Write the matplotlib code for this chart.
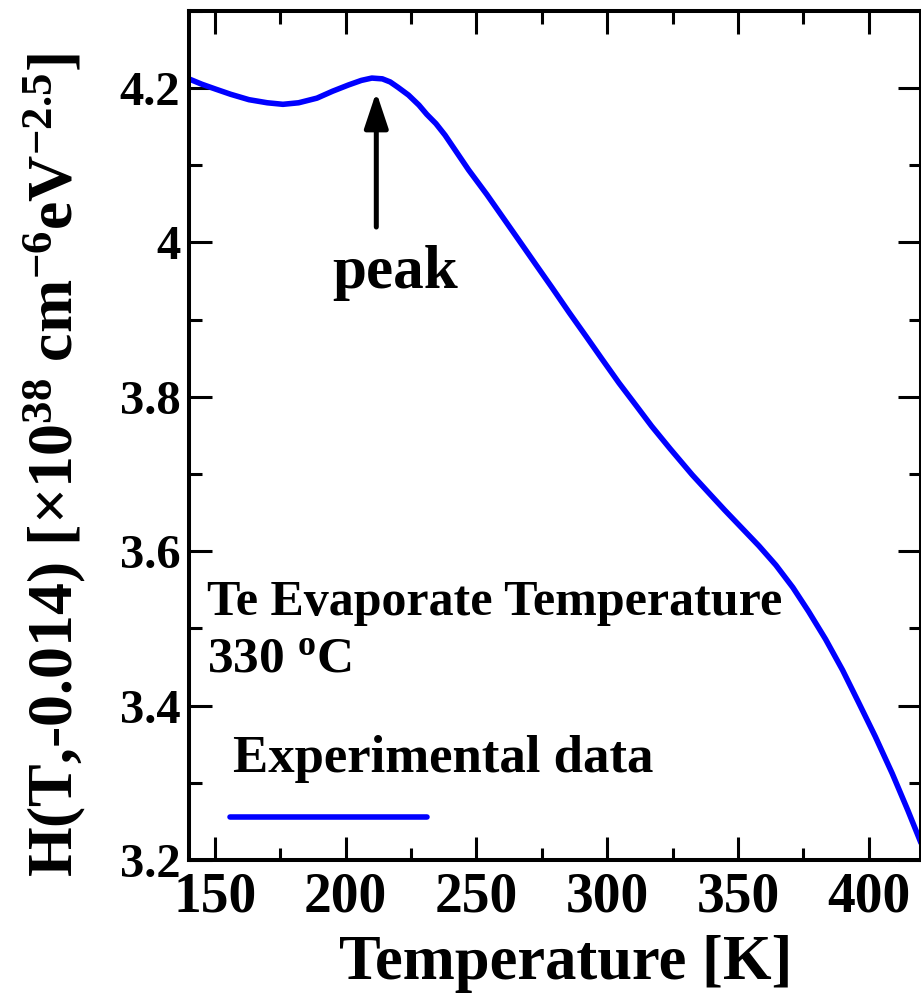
import numpy as np
import matplotlib
matplotlib.use("Agg")
import matplotlib.pyplot as plt
from matplotlib.ticker import MultipleLocator

# -------------------------------
# Data
# -------------------------------
temperature = [140, 145, 150, 156, 163, 170, 176, 182, 189, 195, 201, 206, 210,
               214, 217, 220, 224, 228, 231, 234.5, 238, 241, 244, 247,
               254, 260, 266, 273, 279, 285.5, 292, 298, 304.5, 311, 317, 324,
               332.5, 339, 345, 351.5, 358, 364.5, 371, 377, 383.5, 390, 396,
               402.5, 409, 415, 420]
h_value = [4.212, 4.205, 4.199, 4.192, 4.185, 4.181, 4.179, 4.181, 4.187, 4.196,
           4.204, 4.210, 4.213, 4.212, 4.208, 4.201, 4.191, 4.178, 4.166, 4.154,
           4.139, 4.124, 4.109, 4.094,
           4.062, 4.033, 4.004, 3.970, 3.941, 3.909, 3.878, 3.849, 3.818, 3.789,
           3.762, 3.733, 3.699, 3.675, 3.653, 3.630, 3.607, 3.582, 3.553, 3.522,
           3.486, 3.446, 3.405, 3.360, 3.312, 3.264, 3.222]

x_ticks = [150, 200, 250, 300, 350, 400]
y_ticks = [3.2, 3.4, 3.6, 3.8, 4.0, 4.2]
y_tick_labels = ["3.2", "3.4", "3.6", "3.8", "4", "4.2"]

peak_T = 211.7
peak_tip = 4.195
peak_tail = 4.02

# -------------------------------
# Style
# -------------------------------
plt.rcParams['font.family'] = ['Liberation Serif', 'DejaVu Serif']
plt.rcParams['font.weight'] = 'bold'
plt.rcParams['mathtext.default'] = 'regular'

fig = plt.figure(figsize=(9.21, 9.93), dpi=100)
ax = fig.add_axes([0.205, 0.134, 0.795, 0.855])

ax.plot(temperature, h_value, color='#0000ff', lw=4, solid_capstyle='round',
        solid_joinstyle='round')

ax.set_xlim(140, 420)
ax.set_ylim(3.2, 4.3)
ax.set_xticks(x_ticks)
ax.set_yticks(y_ticks)
ax.set_yticklabels(y_tick_labels)
ax.xaxis.set_minor_locator(MultipleLocator(25))
ax.yaxis.set_minor_locator(MultipleLocator(0.1))

for s in ax.spines.values():
    s.set_linewidth(2.9)
ax.tick_params(which='both', direction='in', top=True, right=True, width=2.2)
ax.tick_params(which='major', length=16.5)
ax.tick_params(which='minor', length=9)
ax.tick_params(axis='x', which='major', labelsize=40, pad=8)
ax.tick_params(axis='y', which='major', labelsize=35, pad=6)
for lab in ax.get_xticklabels() + ax.get_yticklabels():
    lab.set_fontweight('bold')

ax.set_xlabel("Temperature [K]", fontsize=45, fontweight='bold')
ax.xaxis.set_label_coords(0.515, -0.088)
ax.set_ylabel(r"H(T,-0.014) [×10$^{38}$ cm$^{-6}$eV$^{-2.5}$]",
              fontsize=46, fontweight='bold')
ax.yaxis.set_label_coords(-0.137, 0.465)

# peak marker
ax.annotate('', xy=(peak_T, peak_tip), xytext=(peak_T, peak_tail),
            arrowprops=dict(arrowstyle='-|>,head_length=1.08,head_width=0.36',
                            mutation_scale=20, lw=3.6, color='black',
                            shrinkA=0, shrinkB=0))
ax.text(219, 3.941, "peak", fontsize=44, fontweight='bold',
        ha='center', va='baseline')

# annotation text
ax.text(0.0246, 0.2886, "Te Evaporate Temperature", transform=ax.transAxes,
        fontsize=36, fontweight='bold', va='baseline')
ax.text(0.0246, 0.2214, r"330 $^{o}$C", transform=ax.transAxes,
        fontsize=37, fontweight='bold', va='baseline')

# hand-made legend: label above a line sample
ax.text(0.060, 0.1037, "Experimental data", transform=ax.transAxes,
        fontsize=38, fontweight='bold', va='baseline')
ax.plot([0.056, 0.325], [0.0506, 0.0506], transform=ax.transAxes,
        color='#0000ff', lw=4, solid_capstyle='round')

fig.savefig("out.png", dpi=100)
